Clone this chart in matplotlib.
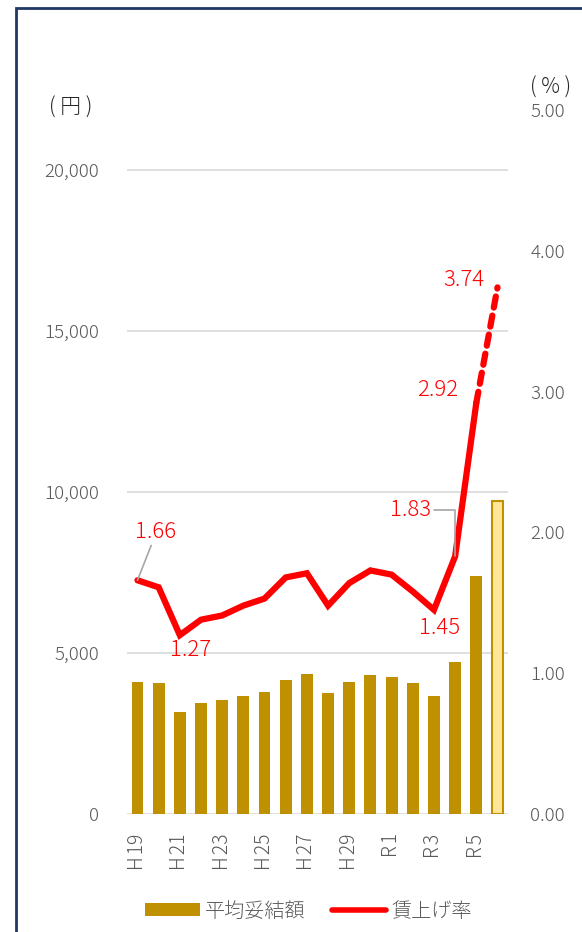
import matplotlib.pyplot as plt
from matplotlib.patches import Rectangle, Patch
from matplotlib.lines import Line2D
from matplotlib.ticker import FuncFormatter

plt.rcParams['font.family'] = ['Noto Sans CJK JP', 'DejaVu Sans']
plt.rcParams['font.weight'] = 'light'

years = ["H19", "H20", "H21", "H22", "H23", "H24", "H25", "H26", "H27",
         "H28", "H29", "H30", "R1", "R2", "R3", "R4", "R5", "R6"]
amount = [4110, 4070, 3180, 3440, 3530, 3680, 3790, 4150, 4340,
          3760, 4110, 4320, 4250, 4070, 3680, 4720, 7380, 9720]
rate = [1.66, 1.61, 1.27, 1.38, 1.41, 1.48, 1.53, 1.68, 1.71,
        1.48, 1.64, 1.73, 1.70, 1.58, 1.45, 1.83, 2.92, 3.74]

gold = "#BF9000"
light = "#FFE699"
gray = "#595959"
red = "#FF0000"

fig = plt.figure(figsize=(5.82, 9.32), dpi=100)
ax1 = fig.add_axes([0.218, 0.1266, 0.655, 0.7554])
ax2 = ax1.twinx()

x = list(range(len(years)))
colors = [gold] * (len(years) - 1) + [light]
ax1.bar(x, amount, width=0.56, color=colors, edgecolor=[gold] * len(years),
        linewidth=[0] * (len(years) - 1) + [1.5], zorder=2)

ax1.set_xlim(-0.5, len(years) - 0.5)
ax1.set_ylim(0, 21870)
ax1.set_yticks([0, 5000, 10000, 15000, 20000])
ax1.yaxis.set_major_formatter(FuncFormatter(lambda v, p: f"{int(v):,}"))
ax1.grid(axis='y', color="#D9D9D9", linewidth=1.2, zorder=0)
ax1.set_axisbelow(True)
ax1.set_xticks(x[::2])
ax1.set_xticklabels([y[0] + "\u200a" + y[1:] for y in years[::2]], rotation=90)
ax1.tick_params(axis='x', length=0, pad=14, labelsize=14, labelcolor=gray)
ax1.tick_params(axis='y', length=0, pad=20, labelsize=13.5, labelcolor=gray)

# solid line up to R5, dashed to R6
ax2.plot(x[:-1], rate[:-1], color=red, linewidth=4.5, solid_capstyle='round',
         solid_joinstyle='miter', zorder=3)
ax2.plot(x[-2:], rate[-2:], color=red, linewidth=4.5, linestyle=(0, (1.8, 1.3)),
         dash_capstyle='round', zorder=3)
ax2.set_ylim(0, 5)
ax2.set_yticks([0, 1, 2, 3, 4, 5])
ax2.yaxis.set_major_formatter(FuncFormatter(lambda v, p: f"{v:.2f}"))
ax2.tick_params(axis='y', length=0, pad=16, labelsize=13.5, labelcolor=gray)

for ax in (ax1, ax2):
    for s in ax.spines.values():
        s.set_visible(False)

lead = dict(arrowstyle='-', color="#A6A6A6", linewidth=1.2, shrinkA=0, shrinkB=0)
lab = dict(color=red, fontsize=16, ha='center', va='center',
           textcoords='offset points')

i = years.index("H19")
ax2.annotate(f"{rate[i]:.2f}", (x[i], rate[i]), xytext=(13, 35),
             arrowprops=dict(lead, relpos=(0.4, -0.1)), **lab)
i = years.index("H21")
ax2.annotate(f"{rate[i]:.2f}", (x[i], rate[i]), xytext=(8, -11), **lab)
i = years.index("R3")
ax2.annotate(f"{rate[i]:.2f}", (x[i], rate[i]), xytext=(4, -13), **lab)
i = years.index("R4")
ax2.annotate(f"{rate[i]:.2f}", (x[i], rate[i]), xytext=(-32, 33),
             arrowprops=dict(lead, relpos=(1.05, 0.5),
                             connectionstyle="angle,angleA=0,angleB=90,rad=0"),
             **lab)
i = years.index("R5")
ax2.annotate(f"{rate[i]:.2f}", (x[i], rate[i]), xytext=(-28, 9), **lab)
i = years.index("R6")
ax2.annotate(f"{rate[i]:.2f}", (x[i], rate[i]), xytext=(-24, 5), **lab)

fig.text(71 / 582, 1 - 108 / 932, "( 円 )", fontsize=15, color="#262626",
         ha='center', va='center')
fig.text(551 / 582, 1 - 88 / 932, "( % )", fontsize=15, color="#262626",
         ha='center', va='center')

handles = [Patch(facecolor=gold, edgecolor='none'),
           Line2D([0], [0], color=red, linewidth=4, solid_capstyle='round')]
leg = fig.legend(handles, ["平均妥結額", "賃上げ率"], loc='center',
                 bbox_to_anchor=(0.53, 0.0225), ncol=2, frameon=False,
                 fontsize=14.5, handlelength=2.7, handleheight=0.62,
                 handletextpad=0.25, columnspacing=1.3)
for t in leg.get_texts():
    t.set_color(gray)

fig.patches.append(Rectangle((16 / 582, -0.1), 2, 1.1 - 8 / 932,
                             transform=fig.transFigure, fill=False,
                             edgecolor="#1F3864", linewidth=2, clip_on=False))

fig.savefig("out.png", dpi=100)
